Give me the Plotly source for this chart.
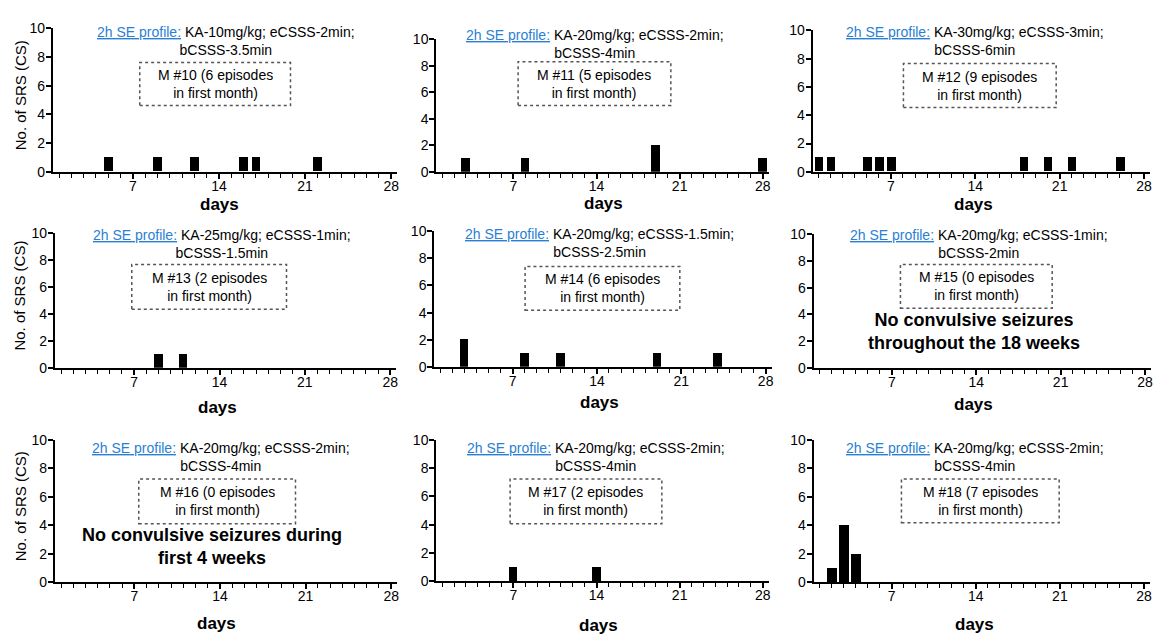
import plotly.graph_objects as go

W, H = 1156, 641

# ---------------- data ----------------
mouse_ids = ["M #10", "M #11", "M #12", "M #13", "M #14", "M #15", "M #16", "M #17", "M #18"]
episodes_first_month = [6, 5, 9, 2, 6, 0, 0, 2, 7]
ka_dose = ["KA-10mg/kg", "KA-20mg/kg", "KA-30mg/kg", "KA-25mg/kg", "KA-20mg/kg",
           "KA-20mg/kg", "KA-20mg/kg", "KA-20mg/kg", "KA-20mg/kg"]
ecsss = ["eCSSS-2min", "eCSSS-2min", "eCSSS-3min", "eCSSS-1min", "eCSSS-1.5min",
         "eCSSS-1min", "eCSSS-2min", "eCSSS-2min", "eCSSS-2min"]
bcsss = ["bCSSS-3.5min", "bCSSS-4min", "bCSSS-6min", "bCSSS-1.5min", "bCSSS-2.5min",
         "bCSSS-2min", "bCSSS-4min", "bCSSS-4min", "bCSSS-4min"]

days_m10 = [5, 9, 12, 16, 17, 22]
srs_m10 = [1, 1, 1, 1, 1, 1]
days_m11 = [3, 8, 19, 28]
srs_m11 = [1, 1, 2, 1]
days_m12 = [1, 2, 5, 6, 7, 18, 20, 22, 26]
srs_m12 = [1, 1, 1, 1, 1, 1, 1, 1, 1]
days_m13 = [9, 11]
srs_m13 = [1, 1]
days_m14 = [3, 8, 11, 19, 24]
srs_m14 = [2, 1, 1, 1, 1]
days_m15 = []
srs_m15 = []
days_m16 = []
srs_m16 = []
days_m17 = [7, 14]
srs_m17 = [1, 1]
days_m18 = [2, 3, 4]
srs_m18 = [1, 4, 2]

all_days = [days_m10, days_m11, days_m12, days_m13, days_m14, days_m15, days_m16, days_m17, days_m18]
all_srs = [srs_m10, srs_m11, srs_m12, srs_m13, srs_m14, srs_m15, srs_m16, srs_m17, srs_m18]

no_seizure_notes = {5: "No convulsive seizures<br>throughout the 18 weeks",
                    6: "No convulsive seizures during<br>first 4 weeks"}

x_tick_vals = [7, 14, 21, 28]
y_tick_vals = [0, 2, 4, 6, 8, 10]

# ---------------- layout (pixel boxes) ----------------
# plot area: (x_left, x_right, y_top(value 10), y_bottom(value 0))
boxes = [
    (53, 398, 21, 168), (437, 770, 32, 168), (814, 1152, 23, 168),
    (55, 397, 231, 369), (435, 773, 229, 368), (815, 1153, 232, 369),
    (55, 398, 443, 589), (437, 770, 443, 588), (815, 1152, 443, 589),
]
# profile text: (center x, center y)
profile_pos = [(226, 34), (596, 37), (977, 34), (222, 242), (601, 241), (981, 242),
               (221, 461), (597, 461), (977, 461)]
# dotted box: (x0, x1, y0, y1)
note_box = [(140, 291, 56, 100), (519, 672, 55, 100), (905, 1058, 57, 102),
            (132, 287, 263, 309), (526, 681, 265, 310), (902, 1054, 263, 308),
            (139, 296, 483, 529), (511, 663, 483, 529), (903, 1061, 483, 528)]
days_y = [202, 201, 202, 410, 405, 407, 631, 633, 632]
days_x = [220, 605, 975, 218, 601, 975, 217, 600, 976]
notes_pos = {5: (976, 332), 6: (212, 552)}

FONT = "Liberation Sans, Arial, sans-serif"

def px(x):
    return x / W

def py(y):
    return 1 - y / H

fig = go.Figure()
layout = dict(
    width=W, height=H, margin=dict(l=0, r=0, t=0, b=0),
    paper_bgcolor="white", plot_bgcolor="white", showlegend=False,
    font=dict(family=FONT, color="black", size=14),
    bargap=0,
)
annotations = []
shapes = []

for i in range(9):
    k = "" if i == 0 else str(i + 1)
    xl, xr, yt, yb = boxes[i]
    bw = 0.82 if i == 8 else 0.72
    fig.add_trace(go.Bar(
        x=all_days[i], y=all_srs[i], width=bw,
        marker=dict(color="black", line=dict(color="black", width=0)),
        xaxis="x" + k, yaxis="y" + k, hoverinfo="x+y",
    ))
    layout["xaxis" + k] = dict(
        domain=[px(xl), px(xr)], anchor="y" + k, range=[0.5, 28.5],
        tickmode="array", tickvals=x_tick_vals, ticktext=[str(v) for v in x_tick_vals],
        ticks="outside", ticklen=5, tickwidth=1.5, tickcolor="black",
        minor=dict(dtick=1, tick0=0, ticks="outside", ticklen=4, tickwidth=1.2, tickcolor="black"),
        showline=True, linecolor="black", linewidth=2, showgrid=False, zeroline=False,
        tickfont=dict(size=14, family=FONT), ticklabelstandoff=-5, fixedrange=True,
    )
    layout["yaxis" + k] = dict(
        domain=[py(yb), py(yt)], anchor="x" + k, range=[0, 10],
        tickmode="array", tickvals=y_tick_vals,
        ticks="outside", ticklen=5, tickwidth=1.5, tickcolor="black",
        showline=True, linecolor="black", linewidth=2, showgrid=False, zeroline=False,
        tickfont=dict(size=14, family=FONT), ticklabelstandoff=-2, fixedrange=True,
    )

    # profile text
    cx, cy = profile_pos[i]
    annotations.append(dict(
        xref="paper", yref="paper", x=px(cx), y=py(cy), xanchor="center", yanchor="middle",
        showarrow=False, align="center",
        text=("<span style='color:#2a7fd4'><u>2h SE profile:</u></span> "
              f"{ka_dose[i]}; {ecsss[i]};<br>{bcsss[i]}"),
        font=dict(size=14, family=FONT, color="black"),
    ))
    # dotted box
    x0, x1, y0, y1 = note_box[i]
    shapes.append(dict(type="rect", xref="paper", yref="paper",
                       x0=px(x0), x1=px(x1), y0=py(y1), y1=py(y0),
                       line=dict(color="#555555", width=1.5, dash="dot")))
    annotations.append(dict(
        xref="paper", yref="paper", x=px((x0 + x1) / 2), y=py((y0 + y1) / 2),
        xanchor="center", yanchor="middle", showarrow=False, align="center",
        text=f"{mouse_ids[i]} ({episodes_first_month[i]} episodes<br>in first month)",
        font=dict(size=14, family=FONT, color="black"),
    ))
    # days label
    annotations.append(dict(
        xref="paper", yref="paper", x=px(days_x[i]), y=py(days_y[i]),
        xanchor="center", yanchor="middle", showarrow=False,
        text="<b>days</b>", font=dict(size=17, family=FONT, color="black"),
    ))
    # y title for first column
    if i % 3 == 0:
        annotations.append(dict(
            xref="paper", yref="paper", x=px(20), y=py((yt + yb) / 2 - 5),
            xanchor="center", yanchor="middle", showarrow=False, textangle=-90,
            text="No. of SRS (CS)", font=dict(size=15, family=FONT, color="black"),
        ))
    if i in no_seizure_notes:
        nx, ny = notes_pos[i]
        annotations.append(dict(
            xref="paper", yref="paper", x=px(nx), y=py(ny),
            xanchor="center", yanchor="middle", showarrow=False, align="center",
            text=f"<b>{no_seizure_notes[i]}</b>",
            font=dict(size=18, family=FONT, color="black"),
        ))

layout["annotations"] = annotations
layout["shapes"] = shapes
fig.update_layout(**layout)
fig.write_html("out.html")
